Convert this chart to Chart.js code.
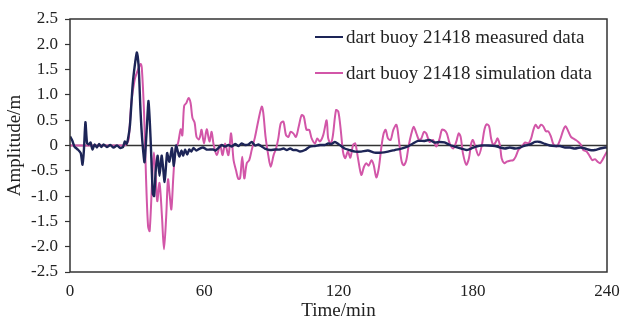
<!DOCTYPE html>
<html>
<head>
<meta charset="utf-8">
<script src="https://cdn.jsdelivr.net/npm/chart.js@4.4.1/dist/chart.umd.min.js"></script>
<style>
  html, body { margin: 0; padding: 0; background: #fff; }
  #wrap { width: 626px; height: 322px; }
</style>
</head>
<body>
<div id="wrap"><canvas id="chart"></canvas></div>
<script>
// ── Data ─────────────────────────────────────────────────────────────────
const xTicks = [0, 60, 120, 180, 240];
const yTicks = [-2.5, -2.0, -1.5, -1.0, -0.5, 0, 0.5, 1.0, 1.5, 2.0, 2.5];

const measuredLabel = 'dart buoy 21418 measured data';
const measuredTime = [
  0, 1, 2, 3.5, 4.8, 5.6, 6.2, 6.9, 7.6, 8.4, 9.2, 10, 11, 12, 13, 14, 15, 16.5, 18, 19.5,
  21, 22.5, 23.7, 24.5, 25.3, 26, 26.8, 28, 29, 29.9, 30.7, 31.5, 32.3, 33.3, 34.2, 35.1, 36,
  37, 37.6, 38.3, 39.2, 40, 41, 42.3, 43.4, 44.4, 45.6, 46.4, 47.4, 48.2, 48.9, 49.8, 50.6,
  51.4, 52.4, 53.3, 54.2, 55.2, 56.5, 58, 59.5, 61, 62.5, 64, 65, 66.3, 67.8, 69.3, 70.8,
  72.3, 73.8, 75.3, 76.7, 78.2, 79.7, 81.2, 82.7, 84.2, 85.7, 87.1, 89.4, 91.6, 93.9, 95.4,
  96.9, 98.4, 99.8, 101.3, 102.8, 105, 107.2, 109.5, 111.7, 113.9, 115.4, 116.9, 118.4,
  119.9, 121.2, 122.7, 124.9, 127.5, 130.2, 133.1, 136.1, 139.2, 142.1, 145.1, 148.1, 151,
  153.3, 155.5, 158.5, 160.7, 162.9, 165.2, 167.4, 169.7, 171.9, 174.9, 177.1, 179.3, 181.6,
  184, 187, 190, 192.2, 194.4, 196.6, 198.9, 201.1, 203.4, 205.6, 207.8, 210.1, 212.3, 214.5,
  216.8, 219, 221.3, 223.5, 225.7, 228, 230.2, 232.4, 234.6, 236.9, 239.1, 240
];
const measuredAmp = [
  0.18, 0.1, -0.02, -0.08, -0.15, -0.38, -0.1, 0.46, 0.05, 0.02, 0.06, -0.08, 0.02, -0.04, 0.03, -0.03, 0.02, -0.03, 0.01, -0.04,
  0.0, -0.05, -0.03, 0.08, 0.03, 0.15, 0.4, 1.2, 1.6, 1.84, 1.55, 0.7, 0.1, -0.33, 0.25, 0.88, 0.15,
  -0.95, -1.0, -0.5, -0.2, -0.6, -0.2, -0.72, -0.15, -0.32, -0.05, -0.4, 0.0, -0.12, -0.22, -0.1, -0.2,
  -0.08, -0.18, -0.08, -0.12, -0.05, -0.1, -0.06, -0.04, -0.08, -0.08, -0.08, -0.1, -0.05, 0.01, -0.02, 0.01,
  -0.02, 0.03, -0.01, 0.04, 0.01, 0.02, 0.07, 0.0, 0.02, -0.02, -0.06, -0.09, -0.08, -0.08, -0.06,
  -0.09, -0.06, -0.09, -0.09, -0.12, -0.09, -0.02, -0.01, 0.01, 0.01, 0.04, 0.03, 0.07,
  0.03, -0.01, -0.06, -0.09, -0.12, -0.12, -0.1, -0.14, -0.14, -0.12, -0.09, -0.06, -0.02,
  0.04, 0.09, 0.09, 0.11, 0.06, 0.07, 0.06, 0.01, -0.02, -0.06, -0.09, -0.06, -0.02,
  0.0, 0.0, -0.01, -0.04, -0.06, -0.04, -0.06, -0.04, 0.0, 0.02, 0.07, 0.07, 0.03, 0.0,
  -0.01, -0.01, -0.04, -0.04, -0.06, -0.04, -0.06, -0.09, -0.09, -0.06, -0.04, -0.04
];

const simLabel = 'dart buoy 21418 simulation data';
const simTime = [
  0, 5, 10, 15, 20, 24, 25.2, 26.2, 27.4, 28.9, 30.4, 31.6, 32.1, 33.1, 34, 34.9, 35.6, 36.8,
  37.5, 38.3, 39, 40, 41.1, 42, 43, 43.8, 44.6, 45.3, 46.2, 47.1, 48.3, 49.5, 50.2, 51, 52, 53,
  53.9, 54.7, 55.7, 56.5, 57.5, 58.1, 58.8, 59.9, 61.1, 62.3, 63.3, 64.1, 65.6, 67.1, 68.2,
  69.3, 70.8, 72, 73.1, 74.2, 75.2, 76, 77, 77.9, 79, 80.1, 81.2, 82.7, 84.2, 85.7, 86.4, 87.4,
  88.6, 89.7, 91, 92.1, 93.1, 94.2, 95.4, 96.5, 97.6, 98.6, 99.8, 101, 102.2, 103.5, 104.5,
  105.7, 106.9, 108, 109.5, 110.5, 111.7, 113.2, 114.7, 115.4, 116.5, 117.4, 118.9, 119.9,
  121, 122, 123, 124.2, 125.3, 126.5, 127.5, 128.7, 130.2, 131.4, 132.4, 133.5, 134.7, 135.7,
  136.9, 138, 139.2, 140.2, 141.1, 142.1, 143.3, 144.5, 145.9, 146.9, 148.1, 149.1, 150.3,
  151.3, 152.6, 153.6, 154.8, 156, 157, 158.2, 159.2, 160.7, 162.2, 163.7, 165.2, 166.2,
  167.4, 168.4, 169.7, 171.2, 172.6, 173.7, 174.6, 175.6, 177.1, 178.3, 179.3, 180.1, 181.1,
  182.6, 184, 185.2, 186.2, 187.3, 188.2, 189.2, 190.3, 191.1, 192.2, 192.9, 194.1, 195.2,
  196.6, 198.1, 199.2, 200.4, 201.9, 203.4, 204.9, 206.1, 207.1, 208.1, 209.3, 210.5, 211.5,
  212.7, 213.8, 215, 216, 217.5, 219, 220.5, 221.5, 222.7, 223.9, 224.9, 226, 227.2, 228.4,
  229.4, 230.9, 232.4, 233.4, 234.6, 235.8, 236.9, 237.9, 239.1, 240
];
const simAmp = [
  0, 0, 0, 0, 0, 0, 0.02, 0.12, 0.84, 1.3, 1.5, 1.61, 1.53, 0.64, -0.67, -1.6, -1.69, -0.6,
  -0.14, -0.6, -1.1, -0.74, -1.4, -2.05, -1.4, -0.67, -1.0, -1.26, -0.6, -0.08, 0.05, 0.32, 0.2, 0.78, 0.84, 0.94,
  0.84, 0.55, 0.45, 0.18, 0.12, 0.17, 0.31, 0.04, 0.32, 0.08, 0.27, 0.04, -0.19, 0.01, -0.19,
  0.04, -0.19, 0.24, -0.29, -0.49, -0.66, -0.65, -0.22, -0.65, -0.35, -0.29, -0.09, 0.17, 0.5, 0.77, 0.64, 0.17,
  -0.19, -0.42, -0.19, -0.06, 0.14, 0.44, 0.47, 0.21, 0.17, 0.27, 0.24, 0.17, 0.37, 0.6, 0.57,
  0.31, 0.31, 0.14, 0.04, 0.14, 0.08, 0.21, 0.5, 0.14, 0.04, 0.17, 0.7, 0.67,
  0.31, -0.12, -0.25, -0.12, -0.24, 0.01, 0.04, -0.25, -0.58, -0.42, -0.35, -0.4, -0.29, -0.38,
  -0.63, -0.45, -0.02, 0.24, 0.31, 0.14, 0.11, 0.31, 0.41, 0.14, -0.29, -0.39, -0.29,
  -0.02, 0.24, 0.37, 0.24, 0.11, 0.14, 0.27, 0.24, 0.07, 0.11, -0.02, 0.14, 0.31,
  0.3, 0.24, 0.04, -0.06, 0.07, 0.24, 0.17, -0.15, -0.38, -0.25, 0.04, 0.11, -0.02,
  -0.2, -0.01, 0.31, 0.42, 0.38, 0.14, 0.01, 0.07, 0.14, -0.01, -0.25, -0.35, -0.32,
  -0.3, -0.29, -0.22, -0.09, -0.02, 0.06, 0.04, 0.14, 0.31, 0.41, 0.34, 0.41, 0.38,
  0.28, 0.28, 0.17, 0.03, -0.02, 0.11, 0.31, 0.38, 0.28, 0.17, 0.14, 0.11, 0.07, 0.01,
  -0.09, -0.12, -0.22, -0.29, -0.27, -0.32, -0.35, -0.29, -0.19, -0.12
];

// ── Styling ──────────────────────────────────────────────────────────────
const COLORS = {
  measured: '#1d2557',
  sim:      '#d256a8',
  axis:     '#333333',
  text:     '#222222',
};
const FONT = "'Liberation Serif', 'Times New Roman', serif";

function toPoints(xs, ys) {
  return xs.map((x, i) => ({ x, y: ys[i] }));
}

// zero line + full frame round the plot
const framePlugin = {
  id: 'frame',
  beforeDatasetsDraw(chart) {
    const { ctx, chartArea: a, scales } = chart;
    const y0 = scales.y.getPixelForValue(0);
    ctx.save();
    ctx.strokeStyle = COLORS.axis;
    ctx.lineWidth = 1.5;
    ctx.beginPath();
    ctx.moveTo(a.left, y0);
    ctx.lineTo(a.right, y0);
    ctx.stroke();
    ctx.restore();
  },
  afterDatasetsDraw(chart) {
    const { ctx, chartArea: a } = chart;
    ctx.save();
    ctx.strokeStyle = COLORS.axis;
    ctx.lineWidth = 1.5;
    ctx.strokeRect(a.left, a.top, a.right - a.left, a.bottom - a.top);
    ctx.restore();
  },
};

// legend drawn inside the plot, upper right
const legendPlugin = {
  id: 'innerLegend',
  afterDraw(chart) {
    const { ctx, chartArea: a } = chart;
    const items = [
      { label: measuredLabel, color: COLORS.measured, dy: 18 },
      { label: simLabel,      color: COLORS.sim,      dy: 54 },
    ];
    ctx.save();
    ctx.font = `19px ${FONT}`;
    ctx.textBaseline = 'middle';
    items.forEach(it => {
      const y = a.top + it.dy;
      ctx.strokeStyle = it.color;
      ctx.lineWidth = 2;
      ctx.beginPath();
      ctx.moveTo(a.left + 245, y);
      ctx.lineTo(a.left + 273, y);
      ctx.stroke();
      ctx.fillStyle = COLORS.text;
      ctx.fillText(it.label, a.left + 276, y + 1);
    });
    ctx.restore();
  },
};

new Chart(document.getElementById('chart'), {
  type: 'scatter',
  data: {
    datasets: [
      {
        label: measuredLabel,
        data: toPoints(measuredTime, measuredAmp),
        showLine: true,
        borderColor: COLORS.measured,
        borderWidth: 2.4,
        pointRadius: 0,
        tension: 0.2,
        order: 1,
      },
      {
        label: simLabel,
        data: toPoints(simTime, simAmp),
        showLine: true,
        borderColor: COLORS.sim,
        borderWidth: 2,
        pointRadius: 0,
        tension: 0.3,
        order: 2,
      },
    ],
  },
  options: {
    responsive: true,
    maintainAspectRatio: false,
    animation: false,
    layout: { padding: { top: 19, right: 19, left: 0, bottom: 0 } },
    plugins: {
      legend: { display: false },
      tooltip: { enabled: false },
    },
    scales: {
      x: {
        type: 'linear',
        min: xTicks[0],
        max: xTicks[xTicks.length - 1],
        afterBuildTicks: s => { s.ticks = xTicks.map(v => ({ value: v })); },
        afterFit: s => {
          s.height = 50;
          s.paddingLeft = 0;
          s.paddingRight = 0;
        },
        grid: { display: false, drawTicks: false },
        border: { display: false },
        ticks: { color: COLORS.text, font: { family: FONT, size: 17 }, padding: 9, maxRotation: 0 },
        title: {
          display: true,
          text: 'Time/min',
          color: COLORS.text,
          font: { family: FONT, size: 19 },
          padding: { top: 0, bottom: 0 },
        },
      },
      y: {
        min: yTicks[0],
        max: yTicks[yTicks.length - 1],
        afterBuildTicks: s => { s.ticks = yTicks.map(v => ({ value: v })); },
        afterFit: s => {
          s.width = 70;
          s.paddingTop = 0;
          s.paddingBottom = 0;
        },
        grid: {
          display: true,
          drawOnChartArea: false,
          drawTicks: true,
          tickLength: 5,
          tickColor: COLORS.axis,
          tickWidth: 1.2,
        },
        border: { display: false },
        ticks: {
          color: COLORS.text,
          font: { family: FONT, size: 17 },
          padding: 7,
          callback: v => (v === 0 ? '0' : v.toFixed(1)),
        },
        title: {
          display: true,
          text: 'Amplitude/m',
          color: COLORS.text,
          font: { family: FONT, size: 19 },
          padding: { top: 4, bottom: 0 },
        },
      },
    },
  },
  plugins: [framePlugin, legendPlugin],
});
</script>
</body>
</html>
